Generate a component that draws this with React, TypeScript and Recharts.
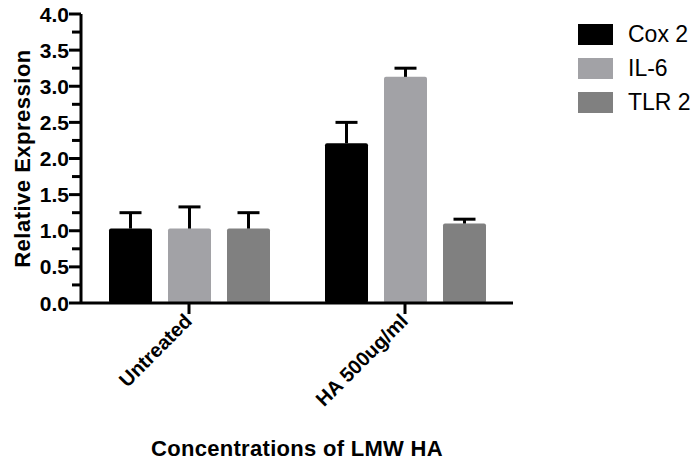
import { BarChart, Bar, XAxis, YAxis, Legend } from "recharts";

const groups = ["Untreated", "HA 500ug/ml"];
const cox2 = [1.03, 2.21];
const cox2Err = [0.22, 0.29];
const il6 = [1.03, 3.13];
const il6Err = [0.3, 0.12];
const tlr2 = [1.03, 1.1];
const tlr2Err = [0.22, 0.06];
const yTicks = [0, 0.25, 0.5, 0.75, 1, 1.25, 1.5, 1.75, 2, 2.25, 2.5, 2.75, 3, 3.25, 3.5, 3.75, 4];

const data = groups.map((g, i) => ({
  group: g,
  cox2: cox2[i],
  cox2Err: cox2Err[i],
  il6: il6[i],
  il6Err: il6Err[i],
  tlr2: tlr2[i],
  tlr2Err: tlr2Err[i],
}));

const FONT = "'Liberation Sans', Arial, Helvetica, sans-serif";

// bar + one-sided (upper) error bar
const barWithError = (errKey: string) => (props: any) => {
  const { x, y, width, height, fill, payload, value } = props;
  const v = Array.isArray(value) ? value[1] - value[0] : value;
  const pxPerUnit = v ? height / v : 0;
  const top = y - payload[errKey] * pxPerUnit;
  const cx = x + width / 2;
  return (
    <g>
      <rect x={x} y={y} width={width} height={height} fill={fill} rx={2} ry={2} />
      <line x1={cx} y1={y} x2={cx} y2={top} stroke="#000" strokeWidth={3} />
      <line x1={cx - 11} y1={top} x2={cx + 11} y2={top} stroke="#000" strokeWidth={3} />
    </g>
  );
};

const YTick = (props: any) => {
  const { x, y, payload } = props;
  const major = Math.abs(payload.value * 2 - Math.round(payload.value * 2)) < 1e-6;
  return (
    <g>
      <line x1={x - (major ? 12 : 9)} y1={y} x2={x} y2={y} stroke="#000" strokeWidth={3} />
      {major && (
        <text x={x - 12} y={y} dy="0.36em" textAnchor="end" fontFamily={FONT} fontWeight="bold" fontSize={21} fill="#000">
          {payload.value.toFixed(1)}
        </text>
      )}
    </g>
  );
};

const XTick = (props: any) => {
  const { x, y, payload } = props;
  return (
    <text
      x={x}
      y={y}
      transform={`rotate(-45, ${x}, ${y})`}
      textAnchor="end"
      dy="0.3em"
      fontFamily={FONT}
      fontWeight="bold"
      fontSize={20}
      fill="#000"
    >
      {payload.value}
    </text>
  );
};

const LegendContent = (props: any) => {
  const { payload } = props;
  return (
    <div style={{ fontFamily: FONT }}>
      {payload.map((p: any) => (
        <div key={p.value} style={{ display: "flex", alignItems: "center", height: 34 }}>
          <span style={{ display: "inline-block", width: 35, height: 21, background: p.color, marginRight: 15 }} />
          <span style={{ fontSize: 23, color: "#000" }}>{p.value}</span>
        </div>
      ))}
    </div>
  );
};

export default function App() {
  return (
    <div style={{ position: "absolute", left: 0, top: 0, background: "#fff" }}>
      <BarChart
        width={698}
        height={465}
        data={data}
        margin={{ top: 14, right: 65, left: 0, bottom: 0 }}
        barSize={43}
        barGap={16}
      >
        <XAxis
          dataKey="group"
          height={162}
          axisLine={{ stroke: "#000", strokeWidth: 3 }}
          tickLine={{ stroke: "#000", strokeWidth: 3 }}
          tickSize={11}
          tickMargin={4}
          tick={<XTick />}
          interval={0}
          label={(p: any) => {
            const vb = p.viewBox;
            return (
              <text x={vb.x + vb.width / 2} y={vb.y + 153} textAnchor="middle" fontFamily={FONT} fontWeight="bold" fontSize={22} letterSpacing={0.3} fill="#000">
                Concentrations of LMW HA
              </text>
            );
          }}
        />
        <YAxis
          width={81}
          domain={[0, 4]}
          ticks={yTicks}
          interval={0}
          axisLine={{ stroke: "#000", strokeWidth: 3 }}
          tickLine={false}
          tickSize={0}
          tickMargin={0}
          tick={<YTick />}
          label={(p: any) => {
            const vb = p.viewBox;
            const cx = 30;
            const cy = vb.y + vb.height / 2;
            return (
              <text x={cx} y={cy} transform={`rotate(-90, ${cx}, ${cy})`} textAnchor="middle" fontFamily={FONT} fontWeight="bold" fontSize={22} letterSpacing={0.5} fill="#000">
                Relative Expression
              </text>
            );
          }}
        />
        <Legend
          layout="vertical"
          verticalAlign="top"
          align="right"
          content={<LegendContent />}
          wrapperStyle={{ top: 17, left: 578, width: 120 }}
        />
        <Bar dataKey="cox2" name="Cox 2" fill="#000000" shape={barWithError("cox2Err")} isAnimationActive={false} />
        <Bar dataKey="il6" name="IL-6" fill="#a2a2a6" shape={barWithError("il6Err")} isAnimationActive={false} />
        <Bar dataKey="tlr2" name="TLR 2" fill="#808080" shape={barWithError("tlr2Err")} isAnimationActive={false} />
      </BarChart>
    </div>
  );
}
